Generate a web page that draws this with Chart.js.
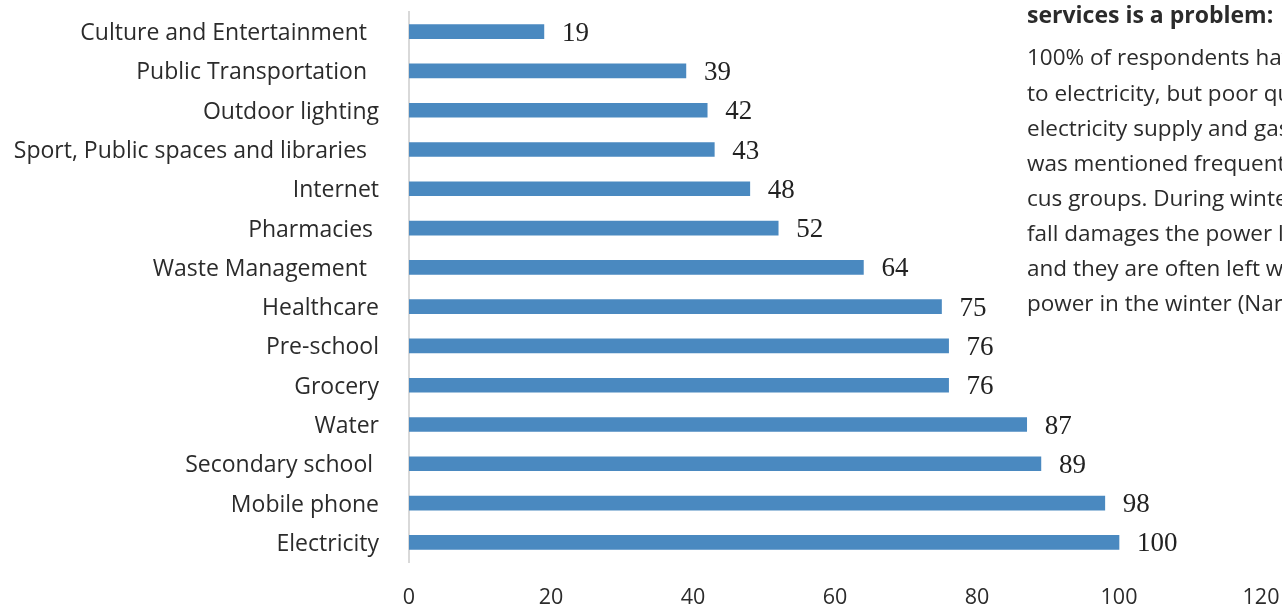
<!DOCTYPE html>
<html>
<head>
<meta charset="utf-8">
<script src="https://cdn.jsdelivr.net/npm/chart.js@4.4.1/dist/chart.umd.min.js"></script>
<style>
  html, body { margin: 0; padding: 0; background: #ffffff; }
  #wrap { width: 1282px; height: 604px; position: relative; }
</style>
</head>
<body>
<div id="wrap"><canvas id="c" width="1282" height="604"></canvas></div>
<script>
const categories = [
  "Culture and Entertainment  ",
  "Public Transportation  ",
  "Outdoor lighting",
  "Sport, Public spaces and libraries  ",
  "Internet",
  "Pharmacies ",
  "Waste Management  ",
  "Healthcare",
  "Pre-school",
  "Grocery",
  "Water",
  "Secondary school ",
  "Mobile phone",
  "Electricity"
];
const values = [19, 39, 42, 43, 48, 52, 64, 75, 76, 76, 87, 89, 98, 100];
const xTicks = [0, 20, 40, 60, 80, 100, 120];
const sideHeading = "services is a problem:";
const sideLines = [
  "100% of respondents have access",
  "to electricity, but poor quality of",
  "electricity supply and gas supply",
  "was mentioned frequently in fo-",
  "cus groups. During winter, snow-",
  "fall damages the power lines",
  "and they are often left without",
  "power in the winter (Narva)."
];

const SANS = '"Open Sans", "Noto Sans", sans-serif';
const SERIF = '"Liberation Serif", "DejaVu Serif", serif';

const valueLabels = {
  id: 'valueLabels',
  afterDatasetsDraw(chart) {
    const ctx = chart.ctx;
    const meta = chart.getDatasetMeta(0);
    ctx.save();
    ctx.font = '27px ' + SERIF;
    ctx.fillStyle = '#222222';
    ctx.textAlign = 'left';
    ctx.textBaseline = 'middle';
    meta.data.forEach((bar, i) => {
      ctx.fillText(String(values[i]), bar.x + 18, bar.y + 2);
    });
    ctx.restore();
  }
};

const sideText = {
  id: 'sideText',
  afterDraw(chart) {
    const ctx = chart.ctx;
    ctx.save();
    ctx.fillStyle = '#2b2b2b';
    ctx.textAlign = 'left';
    ctx.textBaseline = 'middle';
    ctx.font = 'bold 23px ' + SANS;
    ctx.fillText(sideHeading, 1027, 16);
    ctx.font = '22.5px ' + SANS;
    sideLines.forEach((t, i) => {
      ctx.fillText(t, 1027, 59 + i * 35.1);
    });
    ctx.restore();
  }
};

function zeroPad(scale) {
  scale.paddingTop = 0;
  scale.paddingBottom = 0;
  scale.paddingLeft = 0;
  scale.paddingRight = 0;
}

new Chart(document.getElementById('c'), {
  type: 'bar',
  data: {
    labels: categories,
    datasets: [{
      data: values,
      backgroundColor: '#4a89c0',
      borderWidth: 0,
      barThickness: 14
    }]
  },
  options: {
    indexAxis: 'y',
    responsive: false,
    animation: false,
    devicePixelRatio: 1,
    layout: { padding: { top: 12, right: 21, left: 0, bottom: 0 } },
    plugins: {
      legend: { display: false },
      tooltip: { enabled: false }
    },
    scales: {
      x: {
        min: 0,
        max: 120,
        afterBuildTicks(scale) { scale.ticks = xTicks.map(v => ({ value: v })); },
        afterFit(scale) { scale.height = 42; zeroPad(scale); },
        grid: { display: false, drawTicks: false },
        border: { display: false },
        ticks: {
          padding: 23,
          color: '#2b2b2b',
          font: { family: SANS, size: 21.5 },
          maxRotation: 0
        }
      },
      y: {
        afterFit(scale) { scale.width = 409; zeroPad(scale); },
        grid: { display: false, drawTicks: false },
        border: { display: true, color: '#d9d9d9', width: 2 },
        ticks: {
          padding: 30,
          labelOffset: 2,
          color: '#2b2b2b',
          font: { family: SANS, size: 23 },
          autoSkip: false
        }
      }
    }
  },
  plugins: [valueLabels, sideText]
});
</script>
</body>
</html>
